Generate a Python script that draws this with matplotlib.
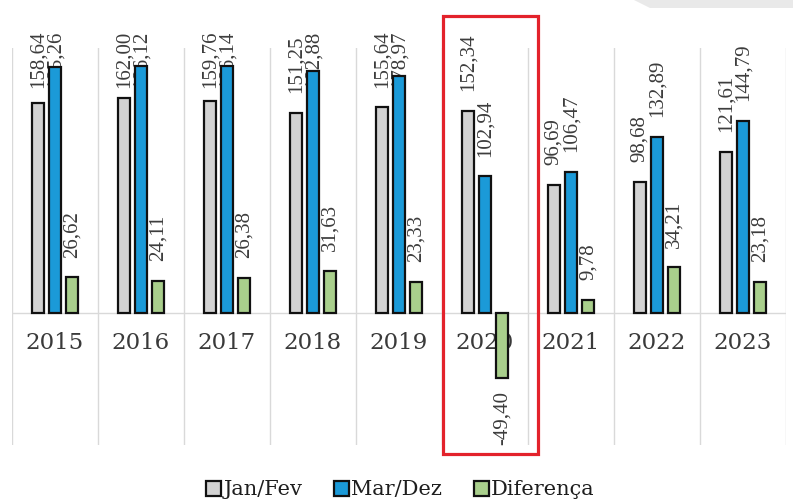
"""
Grouped bar chart: Jan/Fev vs Mar/Dez per year and their difference,
with 2020 highlighted by a red frame.
"""

import matplotlib.pyplot as plt
from matplotlib.patches import Rectangle, Polygon


YEARS = ["2015", "2016", "2017", "2018", "2019", "2020", "2021", "2022", "2023"]
JAN_FEV = [158.64, 162.00, 159.76, 151.25, 155.64, 152.34, 96.69, 98.68, 121.61]
MAR_DEZ = [185.26, 186.12, 186.14, 182.88, 178.97, 102.94, 106.47, 132.89, 144.79]
DIFERENCA = [26.62, 24.11, 26.38, 31.63, 23.33, -49.40, 9.78, 34.21, 23.18]

SERIES = [
    ("Jan/Fev", JAN_FEV, "#d2d2d2"),
    ("Mar/Dez", MAR_DEZ, "#1b9ad8"),
    ("Diferença", DIFERENCA, "#a9cf8c"),
]

HIGHLIGHT = "2020"

plt.rcParams["font.family"] = ["Liberation Serif", "DejaVu Serif"]
WIDE_SERIF = ["DejaVu Serif"]

TEXT_COLOR = "#3c3c3c"
LABEL_TOP = 213  # labels are not allowed to run above this value


def fmt(v: float) -> str:
    return f"{v:.2f}".replace(".", ",")


fig = plt.figure(figsize=(7.93, 5.03), dpi=100)
ax = fig.add_axes([0.0151, 0.1153, 0.9761, 0.7893])

x = list(range(len(YEARS)))
width = 0.14
offsets = [-0.2, 0.0, 0.2]

labels = []
for (name, values, color), off in zip(SERIES, offsets):
    xs = [i + off for i in x]
    ax.bar(xs, values, width=width, color=color, edgecolor="#111111",
           linewidth=1.6, label=name, zorder=3)
    for xi, v in zip(xs, values):
        if v >= 0:
            t = ax.text(xi, v + 15, fmt(v), rotation=90, ha="center",
                        va="bottom", fontsize=15, color=TEXT_COLOR, zorder=2)
            labels.append(t)
        else:
            ax.text(xi, v - 10, fmt(v), rotation=90, ha="center",
                    va="top", fontsize=15, color=TEXT_COLOR, zorder=2,
                    clip_on=False)

ax.set_xlim(-0.5, len(YEARS) - 0.5)
ax.set_ylim(-100, 200)

# keep labels inside the chart area like the spreadsheet does
fig.canvas.draw()
renderer = fig.canvas.get_renderer()
limit_px = ax.transData.transform((0, LABEL_TOP))[1]
for t in labels:
    bb = t.get_window_extent(renderer)
    if bb.y1 > limit_px:
        t.set_y(LABEL_TOP)
        t.set_va("top")
for t in labels:
    t.set_clip_on(False)

# separators between categories and zero line
for b in range(len(YEARS) + 1):
    ax.axvline(b - 0.5, color="#d9d9d9", linewidth=1, zorder=1)
ax.axhline(0, color="#d9d9d9", linewidth=1, zorder=1)

for i, year in enumerate(YEARS):
    ax.text(i, -23, year, ha="center", va="center", fontsize=16.5,
            family=WIDE_SERIF, color="#3a3a3a", zorder=2)

ax.set_xticks([])
ax.set_yticks([])
for s in ax.spines.values():
    s.set_visible(False)

# red frame around the highlighted year
hi = YEARS.index(HIGHLIGHT)
ax.add_patch(Rectangle((hi - 0.49, -107), 1.11, 331, fill=False,
                       edgecolor="#e3222b", linewidth=2.3, clip_on=False,
                       zorder=5))

# light grey shape in the top right corner of the screenshot
fig.patches.append(Polygon([(0.80, 1.0), (1.0, 1.0), (1.0, 0.984), (0.82, 0.984)],
                           closed=True, transform=fig.transFigure,
                           facecolor="#e9e9e9", edgecolor="none"))

fig.legend(loc="center", bbox_to_anchor=(0.505, 0.026), ncol=3, frameon=False,
           prop={"family": WIDE_SERIF, "size": 15}, handlelength=0.72,
           handleheight=0.72, handletextpad=0.12, columnspacing=1.5,
           labelcolor="#1e1e1e")

fig.savefig("out.png", dpi=100)
